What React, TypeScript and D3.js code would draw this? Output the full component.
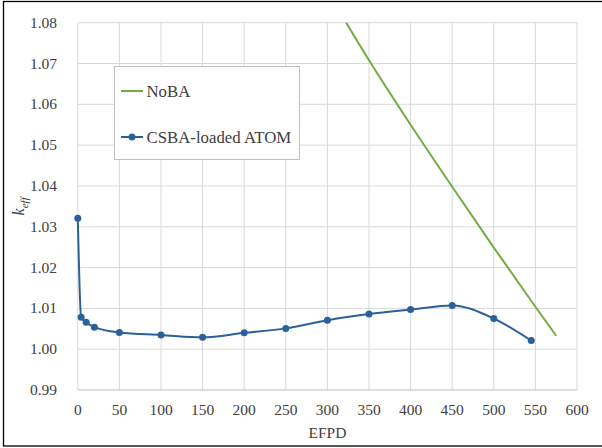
import React, { useEffect, useRef } from 'react';
import * as d3 from 'd3';

// CSBA-loaded ATOM series (EFPD, k-eff)
const csbaDays = [0, 4, 10, 20, 50, 100, 150, 200, 250, 300, 350, 400, 450, 500, 545];
const csbaKeff = [1.0321, 1.0078, 1.0066, 1.0054, 1.0041, 1.0035, 1.0029, 1.004, 1.0051, 1.0071, 1.0086, 1.0097, 1.0107, 1.0075, 1.0021];

// NoBA series (mostly above the visible range)
const nobaDays = [200, 250, 300, 350, 400, 450, 500, 550, 575];
const nobaKeff = [1.1225, 1.1048, 1.0877, 1.0708, 1.055, 1.0398, 1.0249, 1.0104, 1.0033];

const xTicks = [0, 50, 100, 150, 200, 250, 300, 350, 400, 450, 500, 550, 600];
const yTicks = [0.99, 1.0, 1.01, 1.02, 1.03, 1.04, 1.05, 1.06, 1.07, 1.08];

const FONT = 'Liberation Serif, Times New Roman, Times, serif';

const App = () => {
  const svgRef = useRef(null);

  useEffect(() => {
    const svg = d3.select(svgRef.current);
    svg.selectAll('*').remove();

    const width = 602;
    const height = 448;
    const margin = { top: 22.7, left: 77.8 };

    svg.attr('width', width).attr('height', height);

    // outer frame (right edge cropped off)
    svg.append('rect')
      .attr('x', 3.5).attr('y', 1.5)
      .attr('width', 620).attr('height', 444.5)
      .attr('fill', '#fff').attr('stroke', '#000').attr('stroke-width', 1.3);

    const x = d3.scaleLinear().domain([0, 600]).range([margin.left, 577]);
    const y = d3.scaleLinear().domain([0.99, 1.08]).range([390, margin.top]);

    // grid
    const grid = svg.append('g');
    grid.selectAll('.vg').data(xTicks).enter().append('line')
      .attr('x1', d => x(d)).attr('x2', d => x(d))
      .attr('y1', y(0.99)).attr('y2', y(1.08))
      .attr('stroke', '#d9d9d9').attr('stroke-width', 1);
    grid.selectAll('.hg').data(yTicks).enter().append('line')
      .attr('x1', x(0)).attr('x2', x(600))
      .attr('y1', d => y(d)).attr('y2', d => y(d))
      .attr('stroke', d => (d === 0.99 ? '#bfbfbf' : '#d9d9d9')).attr('stroke-width', 1);

    // tick labels
    svg.append('g').selectAll('text').data(xTicks).enter().append('text')
      .attr('x', d => x(d)).attr('y', 415)
      .attr('text-anchor', 'middle')
      .attr('font-family', FONT).attr('font-size', 15.5).attr('fill', '#404040')
      .text(d => d);
    svg.append('g').selectAll('text').data(yTicks).enter().append('text')
      .attr('x', 57).attr('y', d => y(d) + 5)
      .attr('text-anchor', 'end')
      .attr('font-family', FONT).attr('font-size', 15.5).attr('fill', '#404040')
      .text(d => d.toFixed(2));

    // axis titles
    svg.append('text')
      .attr('x', (x(0) + x(600)) / 2).attr('y', 438)
      .attr('text-anchor', 'middle')
      .attr('font-family', FONT).attr('font-size', 15.5).attr('fill', '#404040')
      .text('EFPD');

    const yl = svg.append('text')
      .attr('transform', `translate(24,${(y(0.99) + y(1.08)) / 2}) rotate(-90)`)
      .attr('text-anchor', 'middle')
      .attr('font-family', FONT).attr('font-style', 'italic').attr('fill', '#404040');
    yl.append('tspan').attr('font-size', 16).text('k');
    yl.append('tspan').attr('font-size', 11).attr('dy', 4).text('eff');

    // clip
    svg.append('clipPath').attr('id', 'plotClip')
      .append('rect')
      .attr('x', x(0)).attr('y', y(1.08))
      .attr('width', x(600) - x(0)).attr('height', y(0.99) - y(1.08));

    const noba = nobaDays.map((d, i) => [d, nobaKeff[i]]);
    const csba = csbaDays.map((d, i) => [d, csbaKeff[i]]);

    svg.append('path')
      .datum(noba)
      .attr('clip-path', 'url(#plotClip)')
      .attr('fill', 'none').attr('stroke', '#70ad47').attr('stroke-width', 2)
      .attr('d', d3.line().x(d => x(d[0])).y(d => y(d[1])).curve(d3.curveMonotoneX));

    svg.append('path')
      .datum(csba)
      .attr('fill', 'none').attr('stroke', '#2b6198').attr('stroke-width', 2)
      .attr('d', d3.line().x(d => x(d[0])).y(d => y(d[1])).curve(d3.curveMonotoneX));

    svg.append('g').selectAll('circle').data(csba).enter().append('circle')
      .attr('cx', d => x(d[0])).attr('cy', d => y(d[1]))
      .attr('r', 3.5).attr('fill', '#2b6198');

    // legend
    const lg = svg.append('g');
    lg.append('rect')
      .attr('x', 114.5).attr('y', 66.5).attr('width', 185).attr('height', 93)
      .attr('fill', '#fff').attr('stroke', '#bfbfbf').attr('stroke-width', 1);
    lg.append('line')
      .attr('x1', 121).attr('x2', 143).attr('y1', 91).attr('y2', 91)
      .attr('stroke', '#70ad47').attr('stroke-width', 2);
    lg.append('text')
      .attr('x', 146.5).attr('y', 96.5)
      .attr('font-family', FONT).attr('font-size', 16.8).attr('fill', '#404040')
      .text('NoBA');
    lg.append('line')
      .attr('x1', 121).attr('x2', 143).attr('y1', 137).attr('y2', 137)
      .attr('stroke', '#2b6198').attr('stroke-width', 2);
    lg.append('circle')
      .attr('cx', 132).attr('cy', 137).attr('r', 3.5).attr('fill', '#2b6198');
    lg.append('text')
      .attr('x', 146.5).attr('y', 142.5)
      .attr('font-family', FONT).attr('font-size', 16.8).attr('fill', '#404040')
      .text('CSBA-loaded ATOM');
  }, []);

  return (
    <div style={{ position: 'absolute', left: 0, top: 0 }}>
      <svg ref={svgRef} style={{ display: 'block' }}></svg>
    </div>
  );
};

export default App;
